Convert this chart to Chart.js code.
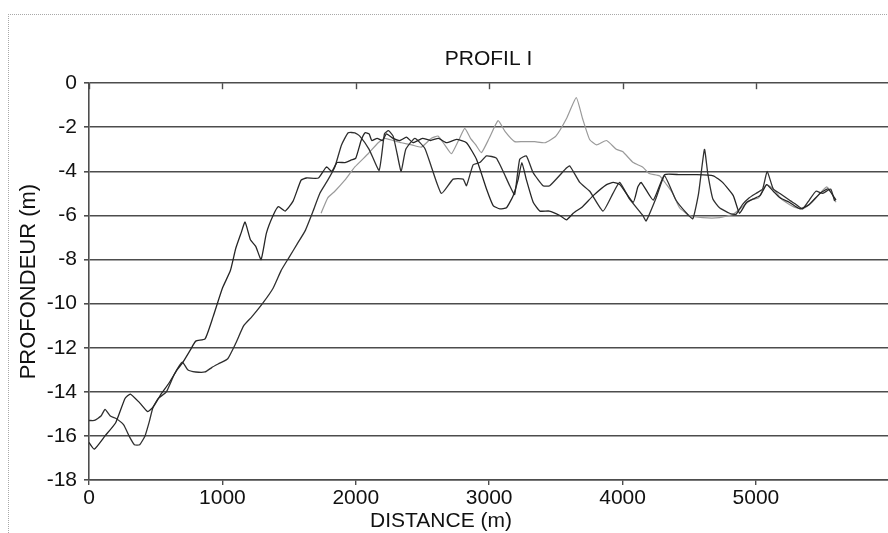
<!DOCTYPE html>
<html>
<head>
<meta charset="utf-8">
<script src="https://cdn.jsdelivr.net/npm/chart.js@4"></script>
<style>
  html, body { margin: 0; padding: 0; background: #fff; overflow: hidden; }
  #frame { position: absolute; left: 8px; top: 14px; width: 900px; height: 540px;
           border-left: 1px dotted #a8a8a8; border-top: 1px dotted #a8a8a8; }
  #wrap { position: absolute; left: 0; top: 0; width: 888px; height: 533px; }
</style>
</head>
<body>
<div id="frame"></div>
<div id="wrap"><canvas id="profilChart" width="888" height="533"></canvas></div>
<script>
// Profile I - three soundings, distance (m) vs depth (m)
const distA = [0, 40, 120, 200, 270, 310, 380, 440, 480, 540, 600, 660, 700, 760, 800, 870, 930, 1000, 1060, 1100,
    1140, 1170, 1210, 1250, 1290, 1330, 1380, 1420, 1470, 1530, 1590, 1630, 1720, 1780, 1820, 1860, 1920, 1960, 2000, 2040,
    2070, 2100, 2120, 2160, 2200, 2230, 2280, 2330, 2380, 2430, 2500, 2560, 2620, 2680, 2755, 2830, 2905, 2980, 3030, 3080,
    3130, 3180, 3216, 3245, 3280, 3330, 3380, 3450, 3530, 3580, 3630, 3700, 3780, 3880, 3930, 3980, 4080, 4115, 4140, 4230,
    4315, 4430, 4550, 4680, 4750, 4830, 4877, 4930, 4980, 5030, 5080, 5130, 5180, 5250, 5330, 5400, 5480, 5540, 5600];
const profA = [-16.3, -16.6, -16.0, -15.4, -14.3, -14.1, -14.5, -14.9, -14.7, -14.1, -13.6, -13.0, -12.7, -12.1, -11.7, -11.6, -10.6, -9.3, -8.5, -7.5,
    -6.8, -6.3, -7.1, -7.4, -8.0, -6.8, -6.0, -5.6, -5.8, -5.35, -4.4, -4.3, -4.3, -3.8, -4.0, -3.6, -3.6, -3.5, -3.4, -2.6,
    -2.25, -2.3, -2.6, -2.5, -2.6, -2.3, -2.5, -2.6, -2.45, -2.7, -2.5, -2.6, -2.5, -2.7, -2.55, -2.7, -3.45, -4.8, -5.55, -5.7,
    -5.65, -5.1, -4.4, -3.6, -4.4, -5.4, -5.8, -5.8, -6.0, -6.2, -5.9, -5.6, -5.1, -4.6, -4.5, -4.6, -5.4, -4.7, -4.5, -5.3,
    -4.15, -4.15, -4.15, -4.2, -4.5, -5.1, -5.9, -5.4, -5.25, -5.1, -4.6, -4.9, -5.2, -5.4, -5.7, -5.5, -5.0, -4.8, -5.3];

const distB = [0, 40, 90, 120, 160, 200, 260, 300, 340, 380, 420, 450, 480, 520, 580, 640, 700, 740, 800, 870,
    920, 980, 1040, 1100, 1160, 1220, 1300, 1380, 1440, 1500, 1560, 1620, 1680, 1730, 1790, 1843, 1893, 1943, 1993, 2030,
    2100, 2175, 2215, 2245, 2280, 2310, 2340, 2375, 2443, 2517, 2567, 2642, 2730, 2805, 2830, 2880, 2930, 2980, 3054, 3154,
    3191, 3229, 3279, 3329, 3404, 3454, 3579, 3604, 3679, 3754, 3853, 3928, 3978, 4052, 4152, 4177, 4252, 4315, 4400, 4480,
    4527, 4570, 4614, 4639, 4677, 4727, 4802, 4850, 4900, 4950, 5000, 5050, 5084, 5130, 5180, 5250, 5300, 5350, 5400, 5450,
    5500, 5560, 5590];
const profB = [-15.3, -15.3, -15.1, -14.8, -15.1, -15.2, -15.5, -16.0, -16.4, -16.4, -16.0, -15.4, -14.7, -14.3, -14.0, -13.2, -12.65, -13.0, -13.1, -13.1,
    -12.9, -12.7, -12.5, -11.8, -11.0, -10.6, -10.0, -9.3, -8.5, -7.9, -7.3, -6.7, -5.8, -5.0, -4.4, -3.8, -2.8, -2.25, -2.25, -2.4,
    -3.0, -3.95, -2.3, -2.15, -2.4, -3.2, -4.0, -3.0, -2.5, -2.95, -3.8, -5.0, -4.35, -4.35, -4.65, -3.7, -3.6, -3.3, -3.4, -4.65,
    -5.05, -3.45, -3.3, -4.05, -4.65, -4.65, -3.85, -3.75, -4.5, -4.9, -5.8, -5.0, -4.5, -5.25, -6.0, -6.25, -5.2, -4.2, -5.3, -5.9,
    -6.15, -5.0, -3.0, -4.1, -5.25, -5.65, -5.9, -5.95, -5.5, -5.2, -5.0, -4.8, -4.0, -4.8, -5.0, -5.3, -5.5, -5.7, -5.3, -4.9,
    -5.0, -4.8, -5.35];

const distC = [1740, 1790, 1843, 1918, 1993, 2093, 2168, 2218, 2280, 2343, 2420, 2492, 2567, 2617, 2667, 2717, 2770, 2817, 2860, 2900,
    2942, 3000, 3067, 3120, 3191, 3250, 3341, 3420, 3500, 3580, 3653, 3700, 3753, 3805, 3880, 3953, 4000, 4080, 4150, 4200,
    4277, 4330, 4377, 4427, 4502, 4600, 4727, 4827, 4900, 4960, 5020, 5080, 5130, 5200, 5280, 5350, 5420, 5480, 5530, 5560,
    5600];
const profC = [-5.9, -5.2, -4.9, -4.4, -3.8, -3.2, -2.7, -2.5, -2.6, -2.7, -2.8, -2.9, -2.5, -2.4, -2.8, -3.2, -2.6, -2.05, -2.5, -2.8,
    -3.15, -2.5, -1.7, -2.2, -2.65, -2.65, -2.65, -2.7, -2.4, -1.6, -0.65, -1.6, -2.55, -2.8, -2.6, -3.0, -3.1, -3.6, -3.8, -4.1,
    -4.2, -4.6, -5.0, -5.65, -6.0, -6.1, -6.1, -5.95, -5.6, -5.3, -5.2, -4.6, -4.8, -5.3, -5.6, -5.7, -5.4, -5.0, -4.7, -4.9,
    -5.4];

const yTicks = [0, -2, -4, -6, -8, -10, -12, -14, -16, -18];
const xTicks = [0, 1000, 2000, 3000, 4000, 5000];

function toPoints(dist, prof) {
    return dist.map((d, i) => ({ x: d, y: prof[i] }));
}

const FONT = "'Liberation Sans', Arial, sans-serif";
const GRID = '#4d4d4d';

// small inward ticks along the top edge and the x axis title
const extras = {
    id: 'extras',
    afterDraw(chart) {
        const { ctx, chartArea, scales } = chart;
        ctx.save();
        ctx.strokeStyle = GRID;
        ctx.lineWidth = 1.4;
        xTicks.forEach(v => {
            const px = Math.round(scales.x.getPixelForValue(v)) + 0.5;
            ctx.beginPath();
            ctx.moveTo(px, chartArea.top);
            ctx.lineTo(px, chartArea.top + 6);
            ctx.stroke();
        });
        ctx.fillStyle = '#111';
        ctx.font = '21px ' + FONT;
        ctx.textAlign = 'center';
        ctx.textBaseline = 'middle';
        ctx.fillText('DISTANCE (m)', 441, 521);
        ctx.restore();
    }
};

const ctx = document.getElementById('profilChart').getContext('2d');
new Chart(ctx, {
    type: 'line',
    data: {
        datasets: [
            { label: 'A', data: toPoints(distA, profA), borderColor: '#262626', borderWidth: 1.3 },
            { label: 'B', data: toPoints(distB, profB), borderColor: '#303030', borderWidth: 1.3 },
            { label: 'C', data: toPoints(distC, profC), borderColor: '#9a9a9a', borderWidth: 1.2 }
        ]
    },
    options: {
        responsive: false,
        animation: false,
        events: [],
        elements: {
            point: { radius: 0 },
            line: { tension: 0.15, fill: false }
        },
        layout: { padding: { left: 0, right: 0, top: 0, bottom: 0 } },
        plugins: {
            legend: { display: false },
            tooltip: { enabled: false },
            title: {
                display: true,
                text: 'PROFIL I',
                fullSize: false,
                color: '#111',
                font: { family: FONT, size: 21, weight: 'normal' },
                padding: { top: 47, bottom: 11 }
            }
        },
        scales: {
            x: {
                type: 'linear',
                min: 0,
                max: 5990,
                afterFit: s => { s.height = 53; },
                afterBuildTicks: s => { s.ticks = xTicks.map(v => ({ value: v })); },
                ticks: {
                    color: '#111',
                    font: { family: FONT, size: 21 },
                    padding: 1,
                    maxRotation: 0,
                    callback: v => String(v)
                },
                grid: { drawOnChartArea: false, drawTicks: true, tickLength: 5, color: GRID, lineWidth: 1.4 },
                border: { display: true, color: GRID, width: 1.6 }
            },
            y: {
                min: -18,
                max: 0,
                afterFit: s => { s.width = 89; },
                afterBuildTicks: s => { s.ticks = yTicks.map(v => ({ value: v })); },
                title: {
                    display: true,
                    text: 'PROFONDEUR (m)',
                    color: '#111',
                    font: { family: FONT, size: 22 },
                    padding: { top: 16, bottom: 0 }
                },
                ticks: {
                    color: '#111',
                    font: { family: FONT, size: 21 },
                    padding: 7,
                    callback: v => String(v)
                },
                grid: { color: GRID, lineWidth: 1.6, tickLength: 5 },
                border: { display: true, color: GRID, width: 1.6 }
            }
        }
    },
    plugins: [extras]
});
</script>
</body>
</html>
